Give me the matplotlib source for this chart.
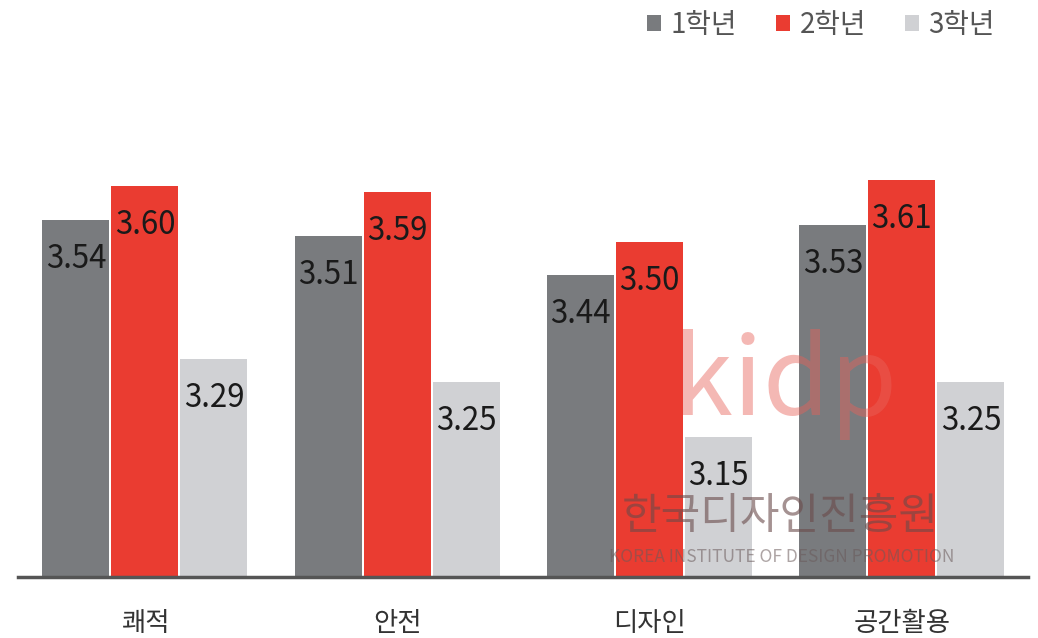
import matplotlib
matplotlib.use('Agg')
import numpy as np
import matplotlib.pyplot as plt

plt.rcParams['font.family'] = ['Noto Sans CJK KR', 'DejaVu Sans']

categories = ['쾌적', '안전', '디자인', '공간활용']
series_names = ['1학년', '2학년', '3학년']
grade1 = [3.54, 3.51, 3.44, 3.53]
grade2 = [3.60, 3.59, 3.50, 3.61]
grade3 = [3.29, 3.25, 3.15, 3.25]

colors = ['#797b7e', '#ea3c31', '#d0d1d4']

fig = plt.figure(figsize=(10.38, 6.38), dpi=100)
ax = fig.add_axes([18/1038, 61/638, 1010/1038, 577/638])

x = np.arange(len(categories))
width = 0.266
offset = 0.2735

for i, (vals, name) in enumerate(zip([grade1, grade2, grade3], series_names)):
    pos = x + (i - 1) * offset
    ax.bar(pos, vals, width=width, color=colors[i], label=name, zorder=2)
    for px, v in zip(pos, vals):
        # value label sits a bit under the bar top
        ax.annotate('%.2f' % v, (px, v), xytext=(0, -39), textcoords='offset pixels',
                    ha='center', va='center', fontsize=22.5, fontweight='medium',
                    color='#1a1a1a', zorder=3)

ax.set_ylim(2.9, 3.933)
ax.set_xlim(-0.503, 3.50)
ax.set_xticks(x)
ax.set_xticklabels(categories, fontsize=19, fontweight='medium', color='#333333')
ax.tick_params(axis='x', length=0, pad=24)
ax.set_yticks([])
for s in ['top', 'right', 'left']:
    ax.spines[s].set_visible(False)
ax.spines['bottom'].set_color('#555555')
ax.spines['bottom'].set_linewidth(2.5)

leg = ax.legend(loc='center right', bbox_to_anchor=(995/1038, 1 - 25/638),
                bbox_transform=fig.transFigure, ncol=3, frameon=False,
                fontsize=20, handlelength=0.5, handleheight=0.5, handletextpad=0.35,
                columnspacing=1.4, borderaxespad=0, borderpad=0)
for t in leg.get_texts():
    t.set_color('#555555')

# watermark
fig.text(785/1038, 1 - 385/638, 'kidp', ha='center', va='center', fontsize=78,
         color='#e8625a', alpha=0.45, family=['Noto Sans CJK KR'], fontweight='light', zorder=5)
fig.text(780/1038, 1 - 517/638, '한국디자인진흥원', ha='center', va='center', fontsize=31,
         color='#6a4a4a', alpha=0.6, zorder=5)
fig.text(782/1038, 1 - 557/638, 'KOREA INSTITUTE OF DESIGN PROMOTION', ha='center', va='center',
         fontsize=12.5, color='#6a5a5a', alpha=0.55, fontweight='light', zorder=5)

fig.savefig('out.png', dpi=100)
